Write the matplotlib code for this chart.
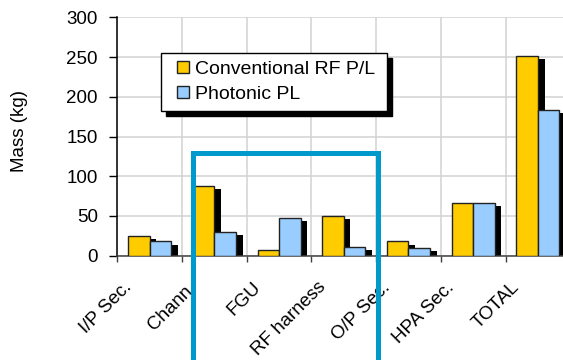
import numpy as np
import matplotlib
matplotlib.use('Agg')
import matplotlib.pyplot as plt
import matplotlib.transforms as mtransforms
from matplotlib.patches import Rectangle
from matplotlib.container import BarContainer
from matplotlib.legend_handler import HandlerPatch

plt.rcParams['font.family'] = ['Liberation Sans', 'DejaVu Sans']

categories = ['I/P Sec.', 'Chann.', 'FGU', 'RF harness', 'O/P Sec.', 'HPA Sec.', 'TOTAL']
conventional = [25, 88, 7, 50, 18, 66, 251]
photonic = [18, 30, 48, 11, 10, 66, 183]
series_names = ['Conventional RF P/L', 'Photonic PL']

yellow = '#FFCC00'
blue = '#99CCFF'
grid_col = '#d2d2d2'
fs = 13.5


def small_square(legend, orig_handle, xdescent, ydescent, width, height, fontsize):
    # keep the key square at the right end of the handle area
    side = 12 * 72 / 100
    return Rectangle((-xdescent + width - side, -ydescent), side, height)


def copy_bar_style(legend_handle, orig_handle):
    legend_handle.update_from(orig_handle[0])


fig = plt.figure(figsize=(5.63, 3.6), dpi=100)
ax = fig.add_axes([0.2084, 0.2897, 0.8044, 0.6622])

x = np.arange(len(categories))
w = 0.333

# black drop shadows behind each bar, shifted right/down
shift = mtransforms.ScaledTranslation(4.8 / 72, -2.3 / 72, fig.dpi_scale_trans)
for off, vals in [(-w / 2, conventional), (w / 2, photonic)]:
    sh = ax.bar(x + off, vals, w, color='black', linewidth=0, zorder=2)
    for p in sh:
        p.set_transform(ax.transData + shift)

ax.bar(x - w / 2, conventional, w, color=yellow, edgecolor='#222222', linewidth=1.0, zorder=3,
       label=series_names[0])
ax.bar(x + w / 2, photonic, w, color=blue, edgecolor='#222222', linewidth=1.0, zorder=4,
       label=series_names[1])

ax.set_xlim(-0.5, len(categories) - 0.5)
ax.set_ylim(0, 300)
ax.set_yticks(np.arange(0, 301, 50))
ax.set_xticks(np.arange(len(categories) + 1) - 0.5)
ax.set_xticklabels([])
ax.grid(True, color=grid_col, linewidth=1.1, zorder=0)
ax.set_axisbelow(True)

for s in ['top', 'right']:
    ax.spines[s].set_visible(False)
ax.spines['left'].set_color('black')
ax.spines['left'].set_linewidth(1.1)
ax.spines['bottom'].set_color('#404040')
ax.spines['bottom'].set_linewidth(1.1)
ax.tick_params(axis='y', direction='out', length=5.5, width=1.0, pad=8.5, labelsize=fs, colors='black')
ax.tick_params(axis='x', direction='out', length=4.5, width=1.0, color='#404040')

for i, lab in enumerate(categories):
    ax.annotate(lab, xy=(i, 0), xycoords=('data', 'axes fraction'),
                xytext=(-27, -23), textcoords='offset pixels',
                rotation=45, ha='right', va='top', rotation_mode='anchor',
                fontsize=fs)

fig.text(19 / 563, 1 - 131 / 360, 'Mass (kg)', rotation=90, ha='center', va='center', fontsize=fs)

leg = ax.legend(loc='upper left', bbox_to_anchor=(160.7 / 563, 1 - 111 / 360, 226 / 563, 57.7 / 360),
                bbox_transform=fig.transFigure, mode='expand', borderaxespad=0,
                fontsize=14, frameon=True, fancybox=False, edgecolor='black',
                handlelength=1.05, handleheight=0.58, handletextpad=0.3,
                labelspacing=0.42, borderpad=0.4,
                handler_map={BarContainer: HandlerPatch(patch_func=small_square,
                                                        update_func=copy_bar_style)},
                shadow={'ox': 3.6, 'oy': -3.6, 'color': 'black', 'alpha': 1})
leg.get_frame().set_linewidth(1.0)
leg.set_zorder(10)

# highlight frame around the middle categories
fig.add_artist(Rectangle((193.2 / 563, -0.2), (378.3 - 193.2) / 563, 0.2 + 1 - 152.8 / 360,
                         transform=fig.transFigure, fill=False, edgecolor='#0099CC',
                         linewidth=3.6, zorder=20))

fig.savefig('out.png', dpi=100)
